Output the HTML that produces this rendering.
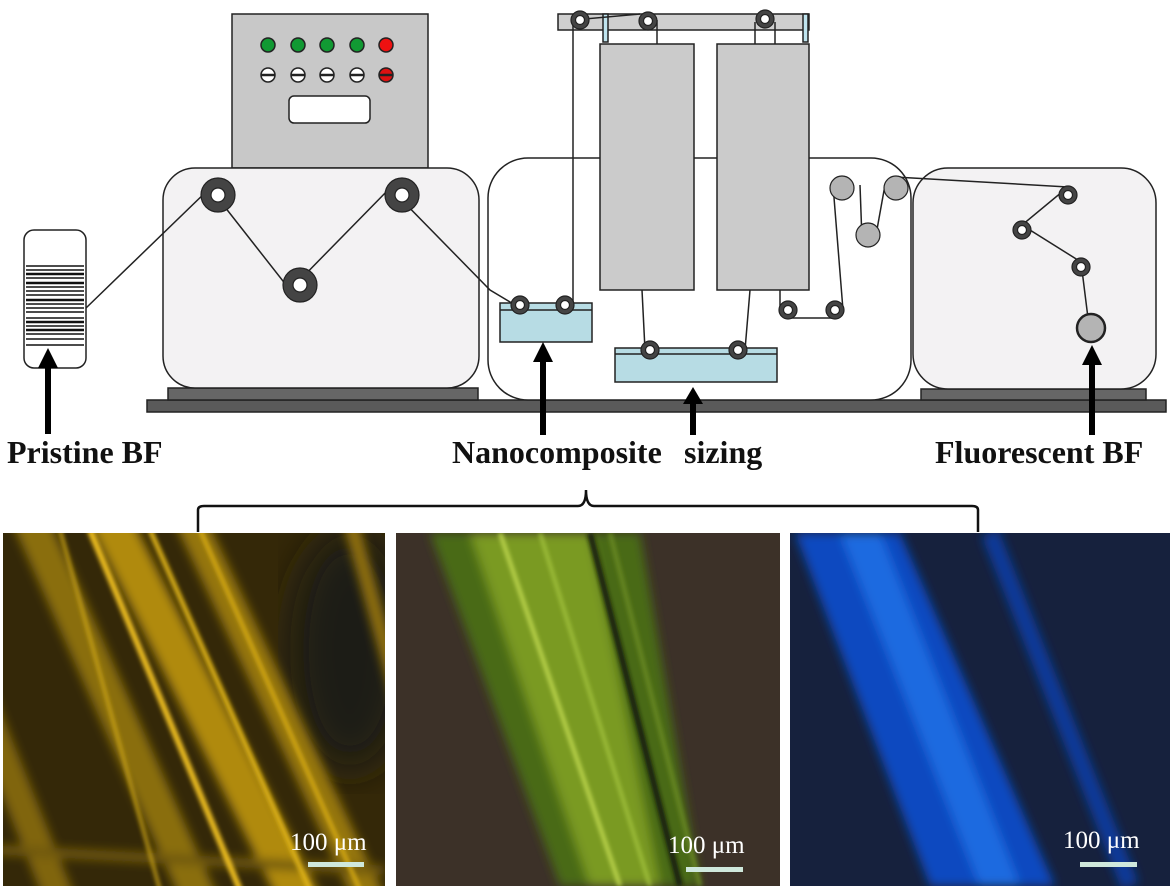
<!DOCTYPE html>
<html><head><meta charset="utf-8"><style>
html,body{margin:0;padding:0;background:#fff;}
svg{display:block;}
text{font-family:"Liberation Serif",serif;}
</style></head><body>
<svg width="1175" height="886" viewBox="0 0 1175 886" xmlns="http://www.w3.org/2000/svg">
<defs>
<filter id="b2"><feGaussianBlur stdDeviation="2"/></filter>
<filter id="b5"><feGaussianBlur stdDeviation="5"/></filter>
<filter id="b20"><feGaussianBlur stdDeviation="20"/></filter>
<clipPath id="c1"><rect x="3" y="533" width="382" height="353"/></clipPath>
<clipPath id="c2"><rect x="396" y="533" width="384" height="353"/></clipPath>
<clipPath id="c3"><rect x="790" y="533" width="380" height="353"/></clipPath>
</defs>
<g stroke="#222" stroke-width="1.5">
<rect x="147" y="400" width="1019" height="12" fill="#5a5a5a"/>
<rect x="168" y="388" width="310" height="12" fill="#666"/>
<rect x="921" y="389" width="225" height="11" fill="#666"/>
<rect x="232" y="14" width="196" height="154" fill="#c8c8c8"/>
<g>
<circle cx="268" cy="45" r="7" fill="#119933"/><circle cx="298" cy="45" r="7" fill="#119933"/><circle cx="327" cy="45" r="7" fill="#119933"/><circle cx="357" cy="45" r="7" fill="#119933"/><circle cx="386" cy="45" r="7" fill="#ee1111"/>
<circle cx="268" cy="75" r="7" fill="#fff"/><circle cx="298" cy="75" r="7" fill="#fff"/><circle cx="327" cy="75" r="7" fill="#fff"/><circle cx="357" cy="75" r="7" fill="#fff"/><circle cx="386" cy="75" r="7" fill="#dd1111"/>
</g>
<g stroke-width="2.5"><line x1="261" y1="75" x2="275" y2="75"/><line x1="291" y1="75" x2="305" y2="75"/><line x1="320" y1="75" x2="334" y2="75"/><line x1="350" y1="75" x2="364" y2="75"/><line x1="379" y1="75" x2="393" y2="75"/></g>
<rect x="289" y="96" width="81" height="27" rx="5" fill="#fff"/>
<rect x="163" y="168" width="316" height="220" rx="32" fill="#f3f2f3"/>
<rect x="488" y="158" width="423" height="242" rx="40" fill="#fff"/>
<rect x="913" y="168" width="243" height="221" rx="35" fill="#f3f2f3"/>
<rect x="24" y="230" width="62" height="138" rx="10" fill="#fff"/>
</g>
<g stroke="#111" stroke-width="1.6">
<line x1="26" y1="266" x2="84" y2="266"/><line x1="26" y1="270" x2="84" y2="270"/><line x1="26" y1="274" x2="84" y2="274" stroke-width="2.5"/><line x1="26" y1="278" x2="84" y2="278"/><line x1="26" y1="283" x2="84" y2="283" stroke-width="2.5"/><line x1="26" y1="287" x2="84" y2="287"/><line x1="26" y1="291" x2="84" y2="291"/><line x1="26" y1="295" x2="84" y2="295"/><line x1="26" y1="300" x2="84" y2="300" stroke-width="2.5"/><line x1="26" y1="304" x2="84" y2="304"/><line x1="26" y1="308" x2="84" y2="308"/><line x1="26" y1="312" x2="84" y2="312"/><line x1="26" y1="318" x2="84" y2="318"/><line x1="26" y1="322" x2="84" y2="322" stroke-width="2.5"/><line x1="26" y1="326" x2="84" y2="326"/><line x1="26" y1="330" x2="84" y2="330" stroke-width="2.5"/><line x1="26" y1="334" x2="84" y2="334"/><line x1="26" y1="339" x2="84" y2="339"/><line x1="26" y1="345" x2="84" y2="345"/>
</g>
<g stroke="#222" stroke-width="1.5" fill="none">
<polyline points="86,308 210,188 290,290 390,188 490,290 515,305"/>
<rect x="500" y="303" width="92" height="39" fill="#b7dce4"/>
<line x1="500" y1="310" x2="592" y2="310"/>
<rect x="615" y="348" width="162" height="34" fill="#b7dce4"/>
<line x1="615" y1="354" x2="777" y2="354"/>
<rect x="558" y="14" width="251" height="16" fill="#cfcfcf"/>
<rect x="603" y="14" width="5" height="28" fill="#bfe4ee"/>
<rect x="803" y="14" width="5" height="28" fill="#bfe4ee"/>
<rect x="600" y="44" width="94" height="246" fill="#cbcbcb"/>
<rect x="717" y="44" width="92" height="246" fill="#cbcbcb"/>
<polyline points="573,305 573,20 640,14"/>
<line x1="657" y1="20" x2="657" y2="44"/>
<line x1="755" y1="22" x2="755" y2="44"/><line x1="775" y1="22" x2="775" y2="44"/>
<line x1="642" y1="290" x2="645" y2="350"/><line x1="750" y1="290" x2="745" y2="350"/>
<line x1="780" y1="290" x2="780" y2="312"/><line x1="788" y1="318" x2="835" y2="318"/>
<line x1="843" y1="310" x2="833" y2="185"/><line x1="860" y1="185" x2="862" y2="240"/><line x1="876" y1="235" x2="885" y2="185"/>
<polyline points="895,177 1068,187 1022,225 1081,262 1088,318"/>
</g>
<g stroke="#222" stroke-width="1.2">
<circle cx="218" cy="195" r="17" fill="#444"/><circle cx="218" cy="195" r="7" fill="#fff"/>
<circle cx="402" cy="195" r="17" fill="#444"/><circle cx="402" cy="195" r="7" fill="#fff"/>
<circle cx="300" cy="285" r="17" fill="#444"/><circle cx="300" cy="285" r="7" fill="#fff"/>
<g fill="#444">
<circle cx="520" cy="305" r="9"/><circle cx="565" cy="305" r="9"/><circle cx="650" cy="350" r="9"/><circle cx="738" cy="350" r="9"/><circle cx="580" cy="20" r="9"/><circle cx="648" cy="21" r="9"/><circle cx="765" cy="19" r="9"/><circle cx="788" cy="310" r="9"/><circle cx="835" cy="310" r="9"/><circle cx="1068" cy="195" r="9"/><circle cx="1022" cy="230" r="9"/><circle cx="1081" cy="267" r="9"/>
</g>
<g fill="#fff">
<circle cx="520" cy="305" r="4.5"/><circle cx="565" cy="305" r="4.5"/><circle cx="650" cy="350" r="4.5"/><circle cx="738" cy="350" r="4.5"/><circle cx="580" cy="20" r="4.5"/><circle cx="648" cy="21" r="4.5"/><circle cx="765" cy="19" r="4.5"/><circle cx="788" cy="310" r="4.5"/><circle cx="835" cy="310" r="4.5"/><circle cx="1068" cy="195" r="4.5"/><circle cx="1022" cy="230" r="4.5"/><circle cx="1081" cy="267" r="4.5"/>
</g>
<g fill="#b4b4b4">
<circle cx="842" cy="188" r="12"/><circle cx="896" cy="188" r="12"/><circle cx="868" cy="235" r="12"/>
<circle cx="1091" cy="328" r="14" stroke-width="2.5"/>
</g>
</g>
<g fill="#000">
<rect x="45" y="362" width="6" height="72"/><polygon points="48,348 38,368 58,368"/>
<rect x="540" y="357" width="6" height="78"/><polygon points="543,342 533,362 553,362"/>
<rect x="690" y="400" width="6" height="35"/><polygon points="693,387 683,404 703,404"/>
<rect x="1089" y="360" width="6" height="75"/><polygon points="1092,345 1082,365 1102,365"/>
</g>
<g font-weight="bold" font-size="32" fill="#111">
<text x="7" y="463">Pristine BF</text>
<text x="452" y="463">Nanocomposite</text>
<text x="684" y="463">sizing</text>
<text x="935" y="463">Fluorescent BF</text>
</g>
<path d="M198,532 L198,510 Q198,506 204,506 L578,506 Q586,506 586,490 Q586,506 594,506 L972,506 Q978,506 978,510 L978,532" stroke="#111" stroke-width="2.5" fill="none"/>
<g clip-path="url(#c1)">
<rect x="3" y="533" width="382" height="353" fill="#342808"/>
<ellipse cx="350" cy="650" rx="60" ry="120" fill="#1e1c14" filter="url(#b20)"/>
<g filter="url(#b5)" stroke-linecap="round">
<line x1="30" y1="520" x2="200" y2="900" stroke="#8a6e08" stroke-width="35"/>
<line x1="110" y1="520" x2="300" y2="900" stroke="#b08a0e" stroke-width="40"/>
<line x1="190" y1="520" x2="370" y2="900" stroke="#957610" stroke-width="30"/>
<line x1="350" y1="520" x2="400" y2="700" stroke="#907010" stroke-width="15"/>
<line x1="-20" y1="700" x2="60" y2="900" stroke="#806508" stroke-width="30"/>
<line x1="0" y1="850" x2="380" y2="870" stroke="#705808" stroke-width="10"/>
</g>
<g filter="url(#b2)">
<line x1="90" y1="530" x2="240" y2="890" stroke="#f0c020" stroke-width="6"/>
<line x1="150" y1="530" x2="310" y2="890" stroke="#e0b418" stroke-width="5"/>
<line x1="60" y1="530" x2="160" y2="890" stroke="#d0a818" stroke-width="3"/>
<line x1="200" y1="530" x2="360" y2="890" stroke="#d8ac18" stroke-width="4"/>
</g>
</g>
<g clip-path="url(#c2)">
<rect x="396" y="533" width="384" height="353" fill="#3c3128"/>
<g filter="url(#b5)">
<polygon points="430,533 640,533 700,886 560,886" fill="#4a6a18"/>
<polygon points="470,533 590,533 660,886 590,886" fill="#7a9a20"/>
</g>
<g filter="url(#b2)">
<line x1="590" y1="533" x2="680" y2="886" stroke="#141a08" stroke-width="6"/>
<line x1="500" y1="533" x2="620" y2="886" stroke="#c0d850" stroke-width="4"/>
<line x1="540" y1="533" x2="650" y2="886" stroke="#a8c840" stroke-width="3"/>
<line x1="610" y1="533" x2="700" y2="886" stroke="#6a8a20" stroke-width="4"/>
</g>
</g>
<g clip-path="url(#c3)">
<rect x="790" y="533" width="380" height="353" fill="#16213d"/>
<g filter="url(#b5)">
<polygon points="795,533 900,533 1055,886 930,886" fill="#0d4ac0"/>
<polygon points="840,533 880,533 1020,886 980,886" fill="#1a6ae0"/>
<line x1="990" y1="533" x2="1130" y2="886" stroke="#0a3a9a" stroke-width="18"/>
</g>
</g>
<g fill="#fff" font-size="25">
<text x="290" y="850">100 μm</text>
<text x="668" y="853">100 μm</text>
<text x="1063" y="848">100 μm</text>
</g>
<g fill="#cfe8dc">
<rect x="308" y="862" width="56" height="5"/>
<rect x="686" y="867" width="57" height="5"/>
<rect x="1080" y="862" width="57" height="5"/>
</g>
</svg>
</body></html>
